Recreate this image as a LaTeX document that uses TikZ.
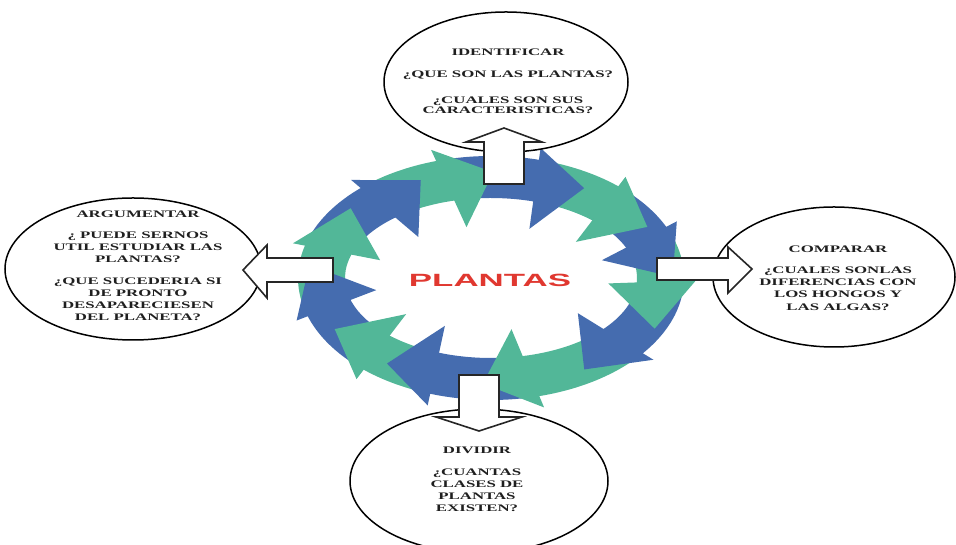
\documentclass[tikz,border=0pt]{standalone}
\usepackage{fontspec}
\newfontfamily\bubblefont[FakeStretch=1.68]{Liberation Serif}
\newfontfamily\hubfont[FakeStretch=1.97]{Liberation Sans}
\usetikzlibrary{shapes.geometric,calc}
\definecolor{cgreen}{RGB}{82,183,152}
\definecolor{cblue}{RGB}{69,108,175}
\definecolor{hubred}{RGB}{224,56,48}
\begin{document}
\begin{tikzpicture}[x=1pt,y=1pt,
  bubble/.style={draw=black, line width=1.5pt, ellipse, inner sep=0pt, fill=white},
  bubbletext/.style={font=\bubblefont\bfseries\fontsize{10}{12.2}\selectfont,
    align=center, inner sep=0pt, anchor=north, text=black!88},
  blockarrow/.style={draw=black!85, fill=white, line width=1.6pt, line join=miter},
  hub/.style={font=\hubfont\bfseries\fontsize{17.7}{18}\selectfont, text=hubred,
    inner sep=0pt, anchor=base},
]
\useasboundingbox (0,0) rectangle (956,545);
\clip (0,0) rectangle (956,545);
\def\cx{491}\def\cy{267}

% ring of arrows: bodies (start angle / head base angle / colour)
\foreach \pa/\qa/\clr in {-134/-164.5/cblue, 195.5/162/cgreen, 162/130/cblue,
    130/104/cgreen, 104/73/cblue, 73/46/cgreen, 46/22/cblue, 22/-4/cgreen,
    -4/-40.6/cblue, -40.6/-78/cgreen, -78/-111/cblue, -111/-134/cgreen}{
  \fill[\clr] ({\cx+193*cos(\pa)},{\cy+122*sin(\pa)})
    arc[start angle=\pa, end angle=\qa, x radius=193pt, y radius=122pt]
    -- ({\cx+146*cos(\qa)},{\cy+80*sin(\qa)})
    arc[start angle=\qa, end angle=\pa, x radius=146pt, y radius=80pt] -- cycle;
}
% ring of arrows: heads (outer barb set a little further back than the inner one)
\foreach \qa/\clr in {-164.5/cblue, 162/cgreen, 130/cblue, 104/cgreen, 73/cblue,
    46/cgreen, 22/cblue, -4/cgreen, -40.6/cblue, -78/cgreen, -111/cblue, -134/cgreen}{
  \coordinate (hm) at ({\cx+171*cos(\qa)},{\cy+103*sin(\qa)});
  \coordinate (hn) at ({\cx+171*cos(\qa-3)},{\cy+103*sin(\qa-3)});
  \fill[\clr] ({\cx+118*cos(\qa-2)},{\cy+52*sin(\qa-2)}) -- ($(hm)!44pt!(hn)$)
    -- ({\cx+205*cos(\qa+3)},{\cy+134*sin(\qa+3)}) -- cycle;
}

% bubbles
\node[bubble, minimum width=244pt, minimum height=140pt] (identificar) at (506,463) {};
\node[bubble, minimum width=256pt, minimum height=142pt] (argumentar) at (133,276) {};
\node[bubble, minimum width=242pt, minimum height=140pt] (comparar) at (834,268) {};
\node[bubble, minimum width=258pt, minimum height=144pt] (dividir) at (479,64) {};

% block arrows from the ring to the bubbles
\draw[blockarrow] (484,361) -- (484,403) -- (466,403) -- (504,417) -- (542,403)
  -- (524,403) -- (524,361) -- cycle;
\draw[blockarrow] (459,170) -- (459,128) -- (436,128) -- (479,114) -- (522,128)
  -- (499,128) -- (499,170) -- cycle;
\draw[blockarrow] (333,287) -- (267,287) -- (267,300) -- (243,275) -- (267,247)
  -- (267,263) -- (333,263) -- cycle;
\draw[blockarrow] (657,287) -- (728,287) -- (728,298) -- (752,276) -- (728,252)
  -- (728,265) -- (657,265) -- cycle;

% texts
\node[bubbletext, font=\bubblefont\bfseries\fontsize{10}{10}\selectfont]
  (t-identificar) at (508,496.6)
  {IDENTIFICAR\\[12pt]¿QUE SON LAS PLANTAS?\\[16pt]¿CUALES SON SUS\\CARACTERISTICAS?};
\node[bubbletext] (t-argumentar) at (138,334.6)
  {ARGUMENTAR\\[9pt]¿ PUEDE SERNOS\\UTIL ESTUDIAR LAS\\PLANTAS?\\[9pt]¿QUE SUCEDERIA SI\\DE PRONTO\\DESAPARECIESEN\\DEL PLANETA?};
\node[bubbletext] (t-comparar) at (838,299.6)
  {COMPARAR\\[9pt]¿CUALES SONLAS\\DIFERENCIAS CON\\LOS HONGOS Y\\LAS ALGAS?};
\node[bubbletext] (t-dividir) at (477,98.6)
  {DIVIDIR\\[10pt]¿CUANTAS\\CLASES DE\\PLANTAS\\EXISTEN?};

\node[hub] (plantas) at (490,258) {PLANTAS};
\end{tikzpicture}
\end{document}
